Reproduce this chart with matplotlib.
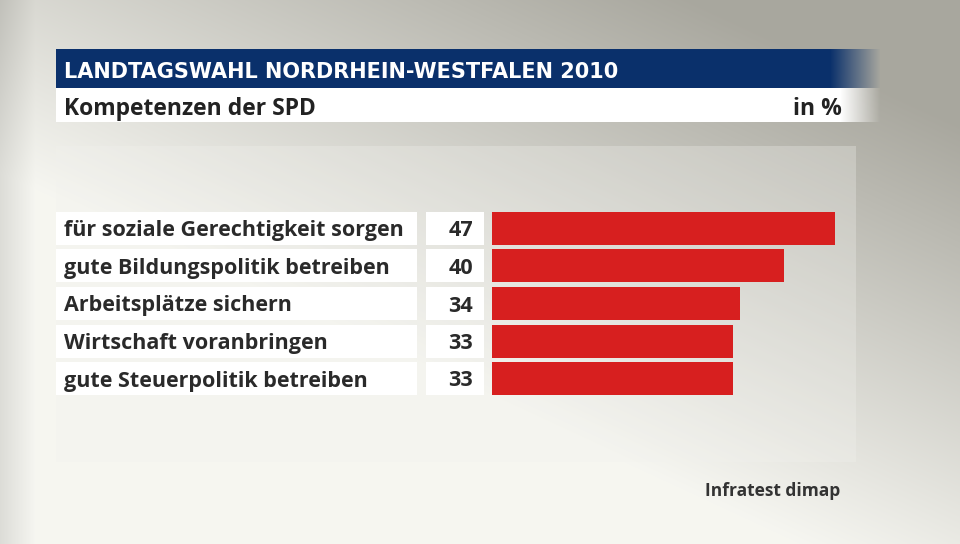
import numpy as np
import matplotlib
matplotlib.use("Agg")
import matplotlib.pyplot as plt
from matplotlib.patches import Rectangle

# data
labels = ["für soziale Gerechtigkeit sorgen", "gute Bildungspolitik betreiben",
          "Arbeitsplätze sichern", "Wirtschaft voranbringen", "gute Steuerpolitik betreiben"]
values = [47, 40, 34, 33, 33]
title = "LANDTAGSWAHL NORDRHEIN-WESTFALEN 2010"
subtitle = "Kompetenzen der SPD"
unit = "in %"
source = "Infratest dimap"

plt.rcParams["font.family"] = ["Open Sans", "DejaVu Sans"]

W, H = 960, 544
fig = plt.figure(figsize=(W / 100, H / 100), dpi=100)

# background gradient (light bottom-left, darker top-right)
bg = fig.add_axes([0, 0, 1, 1])
yy, xx = np.mgrid[0:H, 0:W]
t = np.clip((xx / W) * 0.9 - (yy / H) * 1.1 + 0.35, 0, 1)
edge = np.clip(1 - xx / 35, 0, 1) * 0.10
light = np.array([0.965, 0.965, 0.945])
dark = np.array([0.66, 0.655, 0.62])
img = light[None, None, :] * (1 - t[..., None]) + dark[None, None, :] * t[..., None]
img = img - edge[..., None]
bg.imshow(np.clip(img, 0, 1), extent=[0, W, H, 0], aspect="auto", zorder=0)

# subtle lighter chart panel
bg.add_patch(Rectangle((56, 146), 800, 316, color="#f2f2ee", alpha=0.3, lw=0, zorder=1))

# header bar with fade to the right
bar_rgba = np.zeros((1, 830, 4))
bar_rgba[..., :3] = np.array([10, 48, 107]) / 255
bar_rgba[..., 3] = np.clip((880 - 56 - np.arange(830)) / 50, 0, 1)
bg.imshow(bar_rgba, extent=[56, 886, 88, 49], aspect="auto", zorder=2)
white_rgba = np.ones((1, 830, 4))
white_rgba[..., 3] = np.clip((880 - 56 - np.arange(830)) / 40, 0, 1)
bg.imshow(white_rgba, extent=[56, 886, 122, 88], aspect="auto", zorder=2)
bg.set_xlim(0, W)
bg.set_ylim(H, 0)
bg.axis("off")

bg.text(64, 70, title, color="white", fontsize=15, fontweight="bold",
        va="center_baseline", ha="left", zorder=3,
        family=["Liberation Sans Narrow", "DejaVu Sans"])
bg.text(64, 106, subtitle, color="#222222", fontsize=16.5, fontweight="bold",
        va="center_baseline", ha="left", zorder=3)
bg.text(842, 106, unit, color="#222222", fontsize=16.5, fontweight="bold",
        va="center_baseline", ha="right", zorder=3)
bg.text(840, 489, source, color="#333333", fontsize=12.5, fontweight="bold",
        va="center_baseline", ha="right", zorder=3)

# chart axes: x=0 at pixel 492, x=47 at pixel 835
px_per_unit = (835 - 492) / 47
x_left = -(492 - 56) / px_per_unit
ax = fig.add_axes([56 / W, 1 - 397.25 / H, (835 - 56) / W, (397.25 - 209.75) / H])
ax.set_xlim(x_left, 47)
ax.set_ylim(len(values) - 0.5, -0.5)
ax.axis("off")
ax.patch.set_alpha(0)

y = np.arange(len(values))
h = 0.88
lab_l = x_left
lab_r = -(492 - 417) / px_per_unit
val_l = -(492 - 426) / px_per_unit
val_r = -(492 - 484) / px_per_unit
ax.barh(y, [lab_r - lab_l] * len(y), left=lab_l, height=h, color="white", lw=0)
ax.barh(y, [val_r - val_l] * len(y), left=val_l, height=h, color="white", lw=0)
ax.barh(y, values, height=h, color="#d71f1f", lw=0)

for yi, lab, v in zip(y, labels, values):
    ax.text(lab_l + 8 / px_per_unit, yi, lab, va="center_baseline", ha="left",
            fontsize=15.5, fontweight="bold", color="#2a2a2a")
    ax.text(val_r - 11 / px_per_unit, yi, str(v), va="center_baseline", ha="right",
            fontsize=15.5, fontweight="bold", color="#2a2a2a")

fig.savefig("out.png", dpi=100)
